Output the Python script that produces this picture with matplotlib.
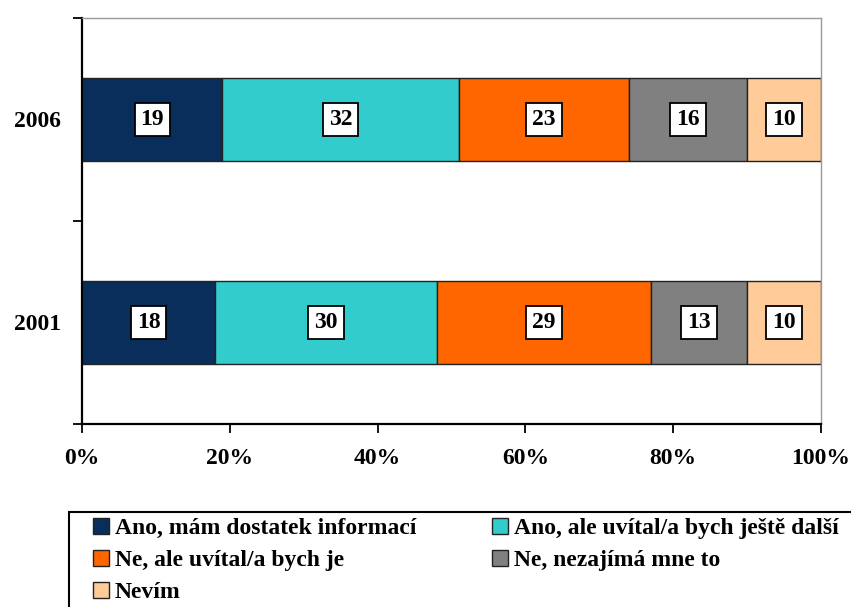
import numpy as np
import matplotlib.pyplot as plt
from matplotlib.patches import Rectangle

years = ['2001', '2006']
categories = ['Ano, mám dostatek informací', 'Ano, ale uvítal/a bych ještě další',
              'Ne, ale uvítal/a bych je', 'Ne, nezajímá mne to', 'Nevím']
values = {
    'Ano, mám dostatek informací': [18, 19],
    'Ano, ale uvítal/a bych ještě další': [30, 32],
    'Ne, ale uvítal/a bych je': [29, 23],
    'Ne, nezajímá mne to': [13, 16],
    'Nevím': [10, 10],
}
colors = ['#0a2e5c', '#33cccc', '#ff6600', '#808080', '#ffcc99']

plt.rcParams['font.family'] = 'Liberation Serif'
plt.rcParams['font.weight'] = 'bold'

fig = plt.figure(figsize=(8.51, 6.07), dpi=100)
ax = fig.add_axes([0.0964, 0.3015, 0.8684, 0.6689])

ind = np.arange(len(years))
left = np.zeros(len(years))
handles = []
for cat, col in zip(categories, colors):
    v = np.array(values[cat], dtype=float)
    h = ax.barh(ind, v, 0.41, left=left, color=col, edgecolor='#222222', linewidth=1, label=cat)
    handles.append(h)
    for i in range(len(years)):
        ax.text(left[i] + v[i] / 2, ind[i], str(int(v[i])), ha='center', va='center',
                fontsize=17, fontweight='bold',
                bbox=dict(boxstyle='square,pad=0.25', fc='white', ec='black', lw=1.3))
    left += v

ax.set_xlim(0, 100)
ax.set_ylim(-0.5, 1.5)
ax.set_xticks(np.arange(0, 101, 20))
ax.set_xticklabels([f'{t}%' for t in range(0, 101, 20)], fontsize=17, fontweight='bold')
ax.set_yticks(ind)
ax.set_yticklabels(years, fontsize=17, fontweight='bold')
ax.set_yticks([-0.5, 0.5, 1.5], minor=True)
ax.tick_params(axis='y', which='major', length=0, pad=15)
ax.tick_params(axis='y', which='minor', length=6.5, width=1.3)
ax.tick_params(axis='x', length=6.5, width=1.3, direction='out', pad=11)
for s in ['left', 'bottom']:
    ax.spines[s].set_linewidth(1.6)
    ax.spines[s].set_color('black')
for s in ['top', 'right']:
    ax.spines[s].set_linewidth(1)
    ax.spines[s].set_color('#999999')

# legend frame runs off the right and bottom edges in the original
fig.patches.append(Rectangle((0.0811, -0.02), 1.0, 0.1765, transform=fig.transFigure,
                             fill=False, ec='black', lw=1.5))

# row-major order like the original legend
order = [0, 2, 4, 1, 3]
leg = fig.legend([handles[k] for k in order], [categories[k] for k in order],
                 loc='upper left', bbox_to_anchor=(0.1093, 0.1466), ncol=2,
                 frameon=False, handlelength=0.68, handleheight=0.68, handletextpad=0.25,
                 columnspacing=3.2, borderaxespad=0, labelspacing=0.45, borderpad=0,
                 prop={'family': 'Liberation Serif', 'weight': 'bold', 'size': 17})

plt.savefig('out.png', dpi=100)
